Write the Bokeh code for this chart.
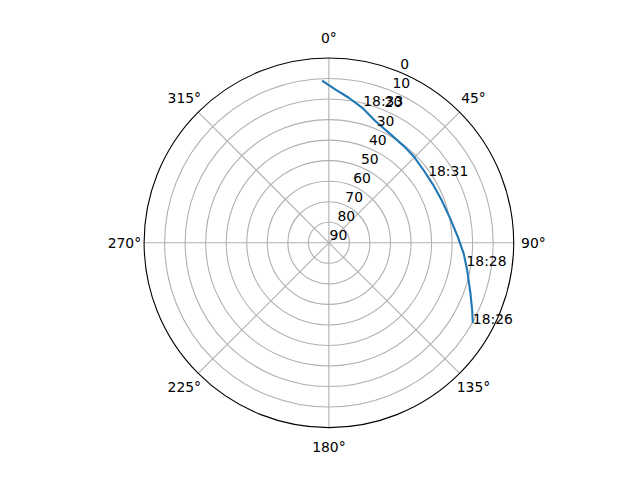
import numpy as np
from bokeh.plotting import figure
from bokeh.models import Range1d
from bokeh.embed import file_html
from bokeh.resources import INLINE
from bokeh.core.properties import value

# ---- data (azimuth deg clockwise from north, elevation deg) ----
track_az = [119.2, 115.3, 109.8, 101.3, 94.7, 87.5, 78.5, 69.5, 60.8, 52.7,
            44.2, 37.6, 29.5, 21.0, 13.9, 7.8, 2.5, -2.4]
track_el = [9.7, 12.8, 16.7, 21.3, 24.1, 27.1, 29.8, 31.3, 31.9, 31.9,
            31.0, 30.4, 29.2, 26.6, 22.3, 18.7, 15.3, 10.9]
time_labels = ["18:26", "18:28", "18:31", "18:33"]
time_az = [119.2, 99.3, 55.9, 14.0]
time_el = [9.7, 22.1, 31.6, 20.9]
r_ticks = [0, 10, 20, 30, 40, 50, 60, 70, 80, 90]
theta_ticks = [0, 45, 90, 135, 180, 225, 270, 315]
theta_labels = ["0°", "45°", "90°", "135°", "180°", "225°", "270°", "315°"]

# ---- layout ----
CX, CY = 328.4, 242.3      # pixel position of the pole in the picture
R = 184.8                  # outer radius in px
EL_MAX = 90.0
FONT = value("DejaVu Sans")
FS = "13.9px"
W, H = 624, 464
TEXT_LIFT = 4.5            # baseline correction for left/baseline anchored texts


def polar(az, rad):
    t = np.radians(np.asarray(az, dtype=float))
    rad = np.asarray(rad, dtype=float)
    return rad * np.sin(t), rad * np.cos(t)


def el_to_r(el):
    return (EL_MAX - np.asarray(el, dtype=float)) / EL_MAX * R


p = figure(width=W, height=H,
           x_range=Range1d(-CX, W - CX), y_range=Range1d(CY - H, CY),
           output_backend="svg", toolbar_location=None, min_border=0,
           x_axis_location=None, y_axis_location=None)
p.grid.visible = False
p.outline_line_color = None
p.background_fill_color = "white"
p.border_fill_color = "white"

GRID = "#b0b0b0"
# radial rings
ring_r = [float(v) for v in el_to_r(r_ticks[1:-1])]
p.circle(x=[0] * len(ring_r), y=[0] * len(ring_r), radius=ring_r,
         fill_color=None, line_color=GRID, line_width=1.1)
# theta spokes
sx, sy = polar(theta_ticks, [R] * len(theta_ticks))
p.segment(x0=[0] * len(theta_ticks), y0=[0] * len(theta_ticks), x1=list(sx), y1=list(sy),
          line_color=GRID, line_width=1.1)

# track
tx, ty = polar(track_az, el_to_r(track_el))
p.line(list(tx), list(ty), line_color="#1f77b4", line_width=2.1, line_join="round")

# outer frame
p.circle(x=[0], y=[0], radius=[R], fill_color=None, line_color="black", line_width=1.1)

# radial tick labels
rx, ry = polar([22.5] * len(r_ticks), el_to_r(r_ticks))
p.text(x=list(rx + 0.7), y=list(ry + 3.4 + TEXT_LIFT), text=[str(v) for v in r_ticks],
       text_font=FONT, text_font_size=FS, text_color="black",
       text_align="left", text_baseline="alphabetic")

# theta tick labels
lx, ly = polar(theta_ticks, [204.5] * len(theta_ticks))
p.text(x=list(lx), y=list(ly), text=theta_labels,
       text_font=FONT, text_font_size=FS, text_color="black",
       text_align="center", text_baseline="middle")

# time labels
kx, ky = polar(time_az, el_to_r(time_el))
p.text(x=list(kx), y=list(ky + TEXT_LIFT), text=time_labels,
       text_font=FONT, text_font_size=FS, text_color="black",
       text_align="left", text_baseline="alphabetic")

open("out.html", "w").write(file_html(p, INLINE))
